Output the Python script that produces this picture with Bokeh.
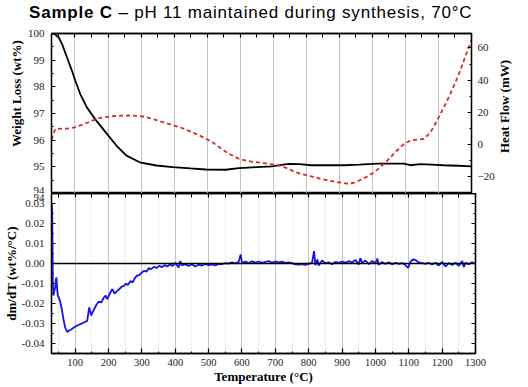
from bokeh.plotting import figure
from bokeh.models import (Range1d, LinearAxis, FixedTicker, Span, Div,
                          NumeralTickFormatter, CustomJSTickFormatter)
from bokeh.layouts import column, row
from bokeh.embed import file_html
from bokeh.resources import INLINE

# ---------------- data ----------------
temp_w = [30, 36, 51, 61, 76, 91, 101, 116, 136, 161, 181, 201, 226, 256, 296, 346,
          396, 450, 496, 556, 596, 650, 696, 746, 780, 815, 860, 915, 960, 1015, 1060,
          1095, 1115, 1145, 1180, 1215, 1260, 1300]
weight = [100.0, 100.0, 99.85, 99.6, 99.1, 98.6, 98.23, 97.73, 97.23, 96.79, 96.48,
          96.17, 95.79, 95.42, 95.17, 95.05, 94.99, 94.94, 94.9, 94.89, 94.95, 94.99,
          95.02, 95.11, 95.1, 95.06, 95.06, 95.06, 95.08, 95.12, 95.12, 95.12, 95.06,
          95.1, 95.08, 95.06, 95.04, 95.02]

temp_h = [30, 33, 41, 60, 76, 96, 116, 141, 166, 191, 216, 241, 266, 291, 316, 341, 366,
          391, 416, 441, 466, 491, 516, 541, 566, 596, 621, 646, 671, 696, 721, 746, 766,
          791, 816, 841, 866, 896, 926, 946, 966, 986, 1006, 1026, 1046, 1071, 1096, 1116,
          1136, 1156, 1176, 1191, 1206, 1221, 1236, 1251, 1266, 1281, 1300]
heat = [3.0, 6.0, 9.7, 9.8, 9.8, 10.5, 11.8, 13.8, 16.0, 17.0, 17.6, 17.9, 18.0, 17.8,
        17.0, 15.5, 13.9, 12.3, 10.8, 8.8, 6.6, 4.2, 1.4, -2.3, -5.8, -8.9, -10.2, -11.0,
        -11.6, -12.4, -13.3, -15.1, -17.2, -18.6, -19.9, -21.2, -22.4, -23.5, -24.4,
        -23.8, -21.9, -19.8, -17.2, -13.8, -9.9, -4.5, 0.4, 2.5, 3.0, 3.5, 7.6, 13.0,
        19.0, 25.0, 31.5, 38.5, 46.0, 54.5, 65.0]

temp_d = [30, 31, 32, 33, 35, 37, 40, 42, 44, 46, 48, 51, 55, 60, 65, 70, 76, 82, 88, 96,
          106, 116, 126, 136, 142, 148, 152, 158, 164, 171, 178, 186, 191, 196, 204, 211,
          218, 226, 234, 240, 246, 252, 258, 266, 272, 280, 286, 292, 300, 306, 314, 321,
          328, 336, 344, 352, 360, 368, 376, 384, 392, 400,
          410, 415, 420, 430, 440, 450, 460, 470, 480, 490, 500, 510, 520, 530, 540, 550,
          560, 570, 580, 590, 596, 600, 610, 620, 630, 640, 650, 660, 670, 680, 690, 700,
          710, 720, 730, 740, 750, 760, 770, 780, 790, 800, 810, 816, 820, 826, 830, 840,
          850, 860, 870, 880, 890, 900, 910, 920, 930, 940, 950, 955, 960, 970, 980, 990,
          1000, 1006, 1010, 1020, 1030, 1040, 1050, 1060, 1070, 1080, 1090, 1098, 1105,
          1112, 1120, 1130, 1140, 1150, 1160, 1170, 1180, 1190, 1200, 1210, 1220, 1230,
          1240, 1250, 1260, 1265, 1270, 1280, 1290, 1300]
dmdt = [0.030, 0.027, 0.012, -0.010, -0.016, -0.014, -0.012, -0.008, -0.007, -0.013,
        -0.016, -0.017, -0.019, -0.023, -0.028, -0.032, -0.0342, -0.0335, -0.033, -0.032,
        -0.031, -0.0303, -0.0295, -0.0287, -0.022, -0.026, -0.0245, -0.0225, -0.0205,
        -0.0190, -0.0195, -0.0170, -0.0160, -0.0178, -0.0150, -0.0128, -0.0150, -0.0137,
        -0.0125, -0.0115, -0.0112, -0.0100, -0.0108, -0.0087, -0.0095, -0.0070, -0.0060,
        -0.0058, -0.0045, -0.0037, -0.0040, -0.0023, -0.0028, -0.0017, -0.0022, -0.0012,
        -0.0018, -0.0008, -0.0015, -0.0005, -0.0012, 0.0003,
        -0.0020, 0.0012, -0.0010, -0.0003, -0.0012, -0.0004, -0.0015, -0.0006, -0.0010,
        -0.0002, -0.0008, -0.0004, -0.0009, -0.0002, -0.0003, 0.0002, -0.0001, 0.0006,
        0.0001, 0.0008, 0.0045, 0.0003, 0.0009, 0.0002, 0.0011, 0.0004, 0.0010, 0.0003,
        0.0008, 0.0012, 0.0004, 0.0010, 0.0006, 0.0009, 0.0003, 0.0006, 0.0002, -0.0004,
        -0.0006, -0.0003, -0.0007, -0.0002, 0.0003, 0.0062, -0.0008, 0.0020, -0.0010,
        0.0015, 0.0002, 0.0006, -0.0004, 0.0008, 0.0003, 0.0010, 0.0004, 0.0012, 0.0005,
        0.0018, -0.0005, 0.0028, 0.0002, 0.0015, -0.0003, 0.0012, 0.0002, 0.0024, -0.0006,
        0.0008, -0.0002, 0.0006, -0.0004, 0.0003, -0.0002, 0.0002, -0.0008, -0.0022,
        0.0008, 0.0020, 0.0018, 0.0005, 0.0002, -0.0002, 0.0003, -0.0005, 0.0004, -0.0010,
        0.0008, -0.0015, 0.0002, -0.0008, 0.0004, -0.0012, 0.0013, -0.0018, 0.0003,
        -0.0004, 0.0006, -0.0002]

x_major = [100, 200, 300, 400, 500, 600, 700, 800, 900, 1000, 1100, 1200, 1300]
x_minor = [50, 150, 250, 350, 450, 550, 650, 750, 850, 950, 1050, 1150, 1250]
w_major = [94, 95, 96, 97, 98, 99, 100]
w_minor = [94.5, 95.5, 96.5, 97.5, 98.5, 99.5]
h_major = [-20, 0, 20, 40, 60]
h_minor = [-30, -10, 10, 30, 50]
d_major = [-0.04, -0.03, -0.02, -0.01, 0.0, 0.01, 0.02, 0.03]
d_minor = [-0.045, -0.035, -0.025, -0.015, -0.005, 0.005, 0.015, 0.025]
d_top = 0.035   # boundary shared with the top panel, where "94" sits

SERIF = "Liberation Serif"
SANS = "Liberation Sans"
GRID = "#c4c4c4"
W = 528
ML, MR = 51, 53          # frame edges at x = 51 and x = 475
TITLE_H = 26
P1_H = 193 - TITLE_H
WL_W = 24                # width of the left title strip of the top panel
P1_W = 473
P1_ML = ML - WL_W
P1_MR = WL_W + P1_W - (W - MR)


def style_axis(ax, labels=True, size="11px"):
    ax.major_tick_in = 4
    ax.major_tick_out = 0
    ax.minor_tick_in = 2
    ax.minor_tick_out = 0
    ax.axis_line_color = "black"
    ax.axis_line_width = 1.3
    ax.major_tick_line_width = 1.2
    ax.minor_tick_line_width = 1.0
    ax.major_label_text_font = SERIF
    ax.major_label_text_font_size = size
    ax.major_label_text_color = "#222222"
    ax.major_label_standoff = 7
    ax.axis_label_text_font = SERIF
    ax.axis_label_text_font_size = "13px"
    ax.axis_label_text_font_style = "bold"
    ax.axis_label_text_color = "black"
    ax.axis_label_standoff = 4
    if not labels:
        ax.formatter = CustomJSTickFormatter(code="return ''")
        ax.major_label_text_font_size = "0px"
        ax.major_label_standoff = 0
        ax.axis_label_standoff = 0


def vertical_title(text, width, height, tx, ty):
    html = ('<div style="width:150px;line-height:15px;text-align:center;'
            'white-space:nowrap;transform-origin:0 0;'
            f'transform:translate({tx}px,{ty}px) rotate(-90deg);'
            'font-family:\'Liberation Serif\';font-size:13px;font-weight:bold;'
            f'color:black">{text}</div>')
    return Div(text=html, width=width, height=height, margin=0,
               styles={"overflow": "visible"})


title = Div(text=('<span style="font-family:\'Liberation Sans\';font-size:17px;'
                  'letter-spacing:0.8px;line-height:26px;color:black;white-space:nowrap">'
                  '<b>Sample C</b> \u2013 pH 11 maintained during synthesis, 70\u00b0C</span>'),
            width=W - 29, height=TITLE_H, margin=(0, 0, 0, 29))

# axis titles of the top panel, reading bottom to top
wl_title = vertical_title("Weight Loss (wt%)", WL_W, P1_H, 9.2, 142.5)
hf_title = vertical_title("Heat Flow (mW)", W - WL_W - P1_W, P1_H, -0.5, 155.5)

# ---------------- top panel ----------------
p1 = figure(width=P1_W, height=P1_H, x_range=Range1d(29, 1300),
            y_range=Range1d(94, 100), output_backend="svg", toolbar_location=None,
            x_axis_location=None, min_border_left=P1_ML, min_border_right=P1_MR,
            min_border_top=33 - TITLE_H, min_border_bottom=0)
p1.outline_line_color = "black"
p1.outline_line_width = 1.3
p1.outline_line_alpha = 1.0
p1.extra_y_ranges = {"hf": Range1d(-30.5, 69)}

p1.yaxis.ticker = FixedTicker(ticks=w_major, minor_ticks=w_minor)
style_axis(p1.yaxis[0])
ax_r = LinearAxis(y_range_name="hf", ticker=FixedTicker(ticks=h_major, minor_ticks=h_minor))
style_axis(ax_r)
ax_r.major_label_standoff = 6
p1.add_layout(ax_r, "right")
ax_t = LinearAxis(ticker=FixedTicker(ticks=x_major, minor_ticks=x_minor))
style_axis(ax_t, labels=False)
ax_t.minor_tick_in = 4
p1.add_layout(ax_t, "above")

p1.xgrid.ticker = FixedTicker(ticks=x_major[:-1])
p1.xgrid.grid_line_color = GRID
p1.xgrid.grid_line_width = 1
p1.ygrid.visible = False

p1.line(temp_w, weight, line_color="black", line_width=1.8)
p1.line(temp_h, heat, y_range_name="hf", line_color="#d42a2a", line_width=1.8,
        line_dash="4 3")

# ---------------- bottom panel ----------------
p2 = figure(width=W, height=194, x_range=p1.x_range, y_range=Range1d(-0.045, d_top),
            output_backend="svg", toolbar_location=None,
            min_border_left=ML, min_border_right=MR, min_border_top=0, min_border_bottom=34)
p2.outline_line_color = "black"
p2.outline_line_width = 1.3
p2.outline_line_alpha = 1.0

p2.xaxis.ticker = FixedTicker(ticks=x_major, minor_ticks=x_minor)
style_axis(p2.xaxis[0], size="10.5px")
p2.xaxis.major_label_standoff = 5
p2.xaxis.major_tick_in = 5
p2.xaxis.axis_label = "Temperature (\u00b0C)"
p2.xaxis.axis_label_standoff = 0
p2.yaxis.ticker = FixedTicker(ticks=d_major + [d_top], minor_ticks=d_minor)
p2.yaxis.formatter = NumeralTickFormatter(format="0.00")
p2.yaxis.major_label_overrides = {d_top: "94"}
style_axis(p2.yaxis[0])
p2.yaxis.axis_label = "dm/dT (wt%/\u00b0C)"
p2.yaxis.axis_label_standoff = 0

ax_r2 = LinearAxis(ticker=FixedTicker(ticks=d_major, minor_ticks=d_minor))
style_axis(ax_r2, labels=False)
p2.add_layout(ax_r2, "right")
ax_t2 = LinearAxis(ticker=FixedTicker(ticks=x_major, minor_ticks=x_minor))
style_axis(ax_t2, labels=False)
ax_t2.minor_tick_in = 4
p2.add_layout(ax_t2, "above")

p2.xgrid.ticker = FixedTicker(ticks=x_major[:-1], minor_ticks=x_minor)
p2.xgrid.grid_line_color = GRID
p2.xgrid.minor_grid_line_color = "#e2e2e2"
p2.xgrid.minor_grid_line_dash = "2 2"
p2.ygrid.visible = False

p2.add_layout(Span(location=0, dimension="width", line_color="black", line_width=1.3))
p2.line(temp_d, dmdt, line_color="#1414e6", line_width=1.8)

layout = column(title, row(wl_title, p1, hf_title, spacing=0), p2, spacing=0)
open("out.html", "w").write(file_html(layout, INLINE))
